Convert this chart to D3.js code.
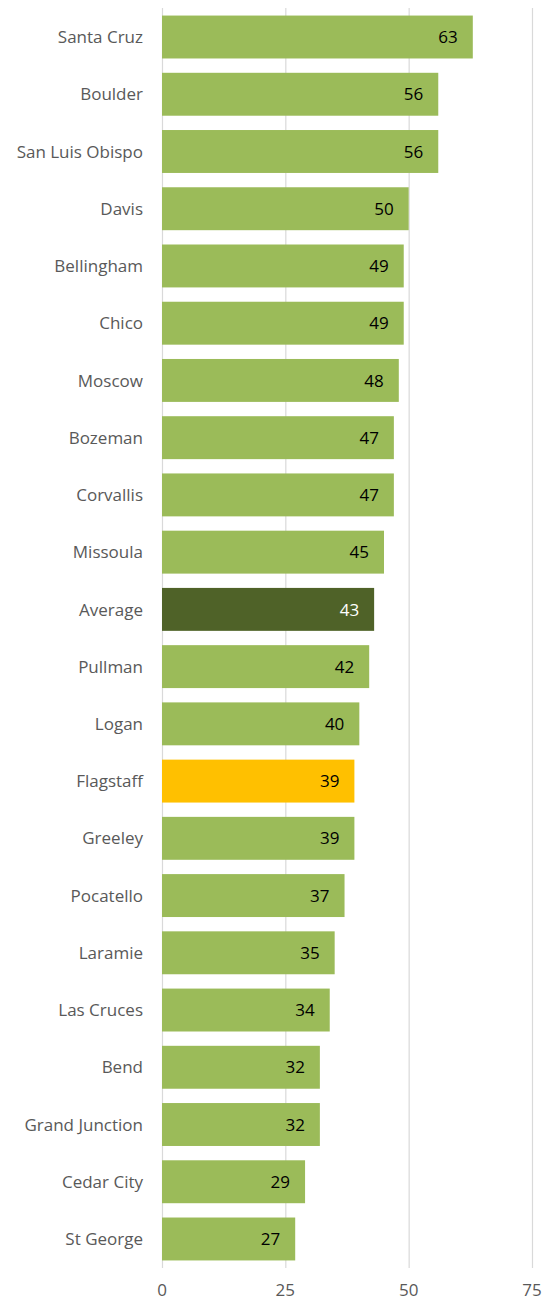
<!DOCTYPE html>
<html><head><meta charset="utf-8">
<script src="https://cdn.jsdelivr.net/npm/d3@7"></script>
<style>body{margin:0;background:#fff}svg text{font-family:"Open Sans","Noto Sans",sans-serif}</style>
</head><body>
<script>
const categories = ["Santa Cruz","Boulder","San Luis Obispo","Davis","Bellingham","Chico","Moscow","Bozeman","Corvallis","Missoula","Average","Pullman","Logan","Flagstaff","Greeley","Pocatello","Laramie","Las Cruces","Bend","Grand Junction","Cedar City","St George"];
const values = [63,56,56,50,49,49,48,47,47,45,43,42,40,39,39,37,35,34,32,32,29,27];
const ticks = [0,25,50,75];

const W=558,H=1301;
const svg=d3.select("body").append("svg").attr("width",W).attr("height",H);
const x=d3.scaleLinear().domain([0,75]).range([162,532]);
const y=d3.scaleBand().domain(categories).range([8.4,1267.6]).paddingInner(0.25).paddingOuter(0.125);

svg.append("g").selectAll("line").data(ticks).join("line")
 .attr("x1",d=>x(d)+0.5).attr("x2",d=>x(d)+0.5).attr("y1",8).attr("y2",1268)
 .attr("stroke","#d9d9d9").attr("stroke-width",1.2);

const color=c=>c==="Average"?"#4f6228":c==="Flagstaff"?"#ffc000":"#9bbb59";
const data=categories.map((c,i)=>({c,v:values[i]}));
svg.append("g").selectAll("rect").data(data).join("rect")
 .attr("x",x(0)).attr("y",d=>y(d.c)).attr("width",d=>x(d.v)-x(0)).attr("height",y.bandwidth())
 .attr("fill",d=>color(d.c));

svg.append("g").selectAll("text").data(data).join("text")
 .attr("x",d=>x(d.v)-15).attr("y",d=>y(d.c)+y.bandwidth()/2).attr("dy","0.36em")
 .attr("text-anchor","end").attr("font-size",17)
 .attr("fill",d=>d.c==="Average"?"#fff":"#000").text(d=>d.v);

svg.append("g").selectAll("text").data(categories).join("text")
 .attr("x",143).attr("y",d=>y(d)+y.bandwidth()/2).attr("dy","0.36em")
 .attr("text-anchor","end").attr("font-size",17).attr("fill","#595959").text(d=>d);

svg.append("g").selectAll("text").data(ticks).join("text")
 .attr("x",d=>x(d)).attr("y",1290).attr("dy","0.36em")
 .attr("text-anchor","middle").attr("font-size",17).attr("fill","#595959").text(d=>d);
</script>
</body></html>
